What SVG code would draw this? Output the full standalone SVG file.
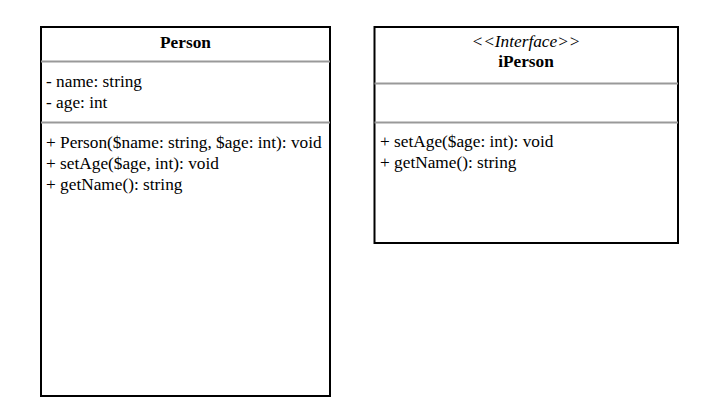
<svg xmlns="http://www.w3.org/2000/svg" width="712" height="410" viewBox="0 0 712 410">
<style>
.box{fill:#fff;stroke:#000;stroke-width:2}
.div{stroke:#999;stroke-width:2}
text{font-family:"Liberation Serif","Times New Roman",serif;font-size:17.3px;fill:#000}
.title{font-weight:bold;text-anchor:middle}
.stereo{font-style:italic;text-anchor:middle}
</style>
<rect width="712" height="410" fill="#fff"/>
<g id="Person">
<rect class="box" x="41" y="27" width="289" height="369"/>
<line class="div" x1="41" y1="61.5" x2="330" y2="61.5"/>
<line class="div" x1="41" y1="122.5" x2="330" y2="122.5"/>
<text class="title" x="185.5" y="48">Person</text>
<text x="46" y="87">- name: string</text>
<text x="46" y="108">- age: int</text>
<text x="46" y="148">+ Person($name: string, $age: int): void</text>
<text x="46" y="169">+ setAge($age, int): void</text>
<text x="46" y="190">+ getName(): string</text>
</g>
<g id="iPerson">
<rect class="box" x="374.5" y="27" width="303.5" height="216"/>
<line class="div" x1="374.5" y1="83.5" x2="678" y2="83.5"/>
<line class="div" x1="374.5" y1="122.5" x2="678" y2="122.5"/>
<text class="stereo" x="526" y="47">&lt;&lt;Interface&gt;&gt;</text>
<text class="title" x="526" y="67">iPerson</text>
<text x="380" y="147">+ setAge($age: int): void</text>
<text x="380" y="168">+ getName(): string</text>
</g>
<g id="connectors"></g>
</svg>
